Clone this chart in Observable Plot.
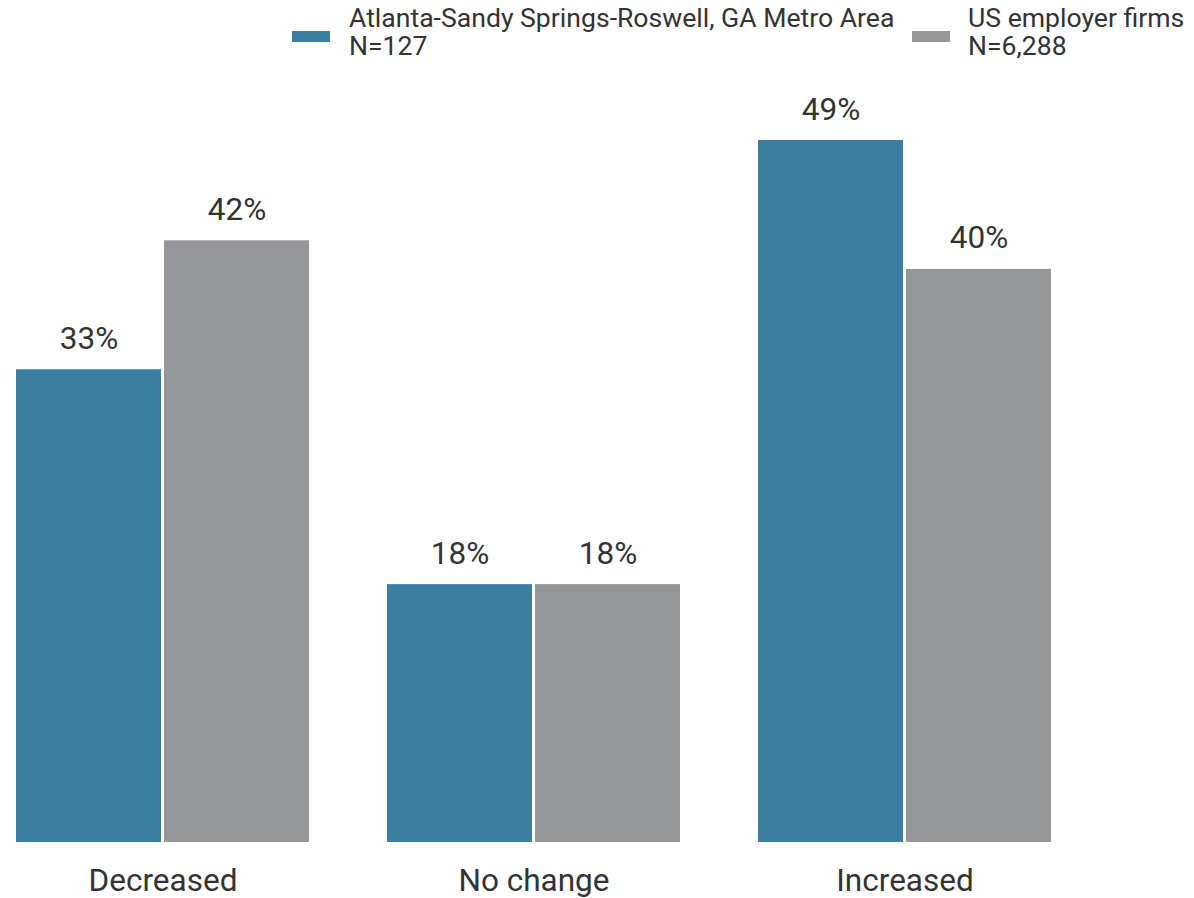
<!DOCTYPE html>
<html><head><meta charset="utf-8">
<script src="https://cdn.jsdelivr.net/npm/d3@7"></script>
<script src="https://cdn.jsdelivr.net/npm/@observablehq/plot@0.6"></script>
<style>
body{margin:0;background:#fff;font-family:Roboto,sans-serif;color:#333;}
#legend{position:relative;height:80px;width:1194px;}
.sw{position:absolute;top:31px;width:38px;height:11px;}
.lt{position:absolute;top:4px;font-size:26.6px;line-height:28px;white-space:nowrap;color:#333;}
#chart svg{display:block;}
</style></head>
<body>
<div id="legend"></div>
<div id="chart"></div>
<script>
const categories = ["Decreased", "No change", "Increased"];
const seriesNames = ["Atlanta-Sandy Springs-Roswell, GA Metro Area", "US employer firms"];
const seriesN = ["N=127", "N=6,288"];
const atlantaValues = [33, 18, 49];
const usValues = [42, 18, 40];
const colors = ["#3a7ea1", "#959699"];

const data = [];
categories.forEach((c, i) => {
  data.push({category: c, series: seriesNames[0], value: atlantaValues[i]});
  data.push({category: c, series: seriesNames[1], value: usValues[i]});
});

// legend
const legend = document.getElementById("legend");
const legendPos = [{sw: 292, tx: 349}, {sw: 912, tx: 968}];
seriesNames.forEach((s, i) => {
  const sw = document.createElement("div");
  sw.className = "sw"; sw.style.left = legendPos[i].sw + "px"; sw.style.background = colors[i];
  legend.appendChild(sw);
  const t = document.createElement("div");
  t.className = "lt"; t.style.left = legendPos[i].tx + "px";
  t.innerHTML = s + "<br>" + seriesN[i];
  legend.appendChild(t);
});

const chart = Plot.plot({
  width: 1194,
  height: 818,
  marginLeft: 14,
  marginRight: 142,
  marginTop: 60,
  marginBottom: 56,
  style: {fontFamily: "Roboto, sans-serif", fontSize: "31px", color: "#333", background: "#fff"},
  fx: {domain: categories, paddingInner: 0.206, paddingOuter: 0, label: null},
  x: {domain: seriesNames, paddingInner: 0.017, paddingOuter: 0, axis: null},
  y: {domain: [0, 49], axis: null},
  color: {domain: seriesNames, range: colors},
  marks: [
    Plot.axisFx({anchor: "bottom", tickSize: 0, tickPadding: 26, fontSize: 31.5, label: null, fill: "#333"}),
    Plot.barY(data, {fx: "category", x: "series", y: "value", fill: "series"}),
    Plot.text(data, {fx: "category", x: "series", y: "value", text: d => d.value + "%", lineAnchor: "bottom", dy: -21, fontSize: 31.5, fill: "#333"})
  ]
});
document.getElementById("chart").appendChild(chart);
</script>
</body></html>
